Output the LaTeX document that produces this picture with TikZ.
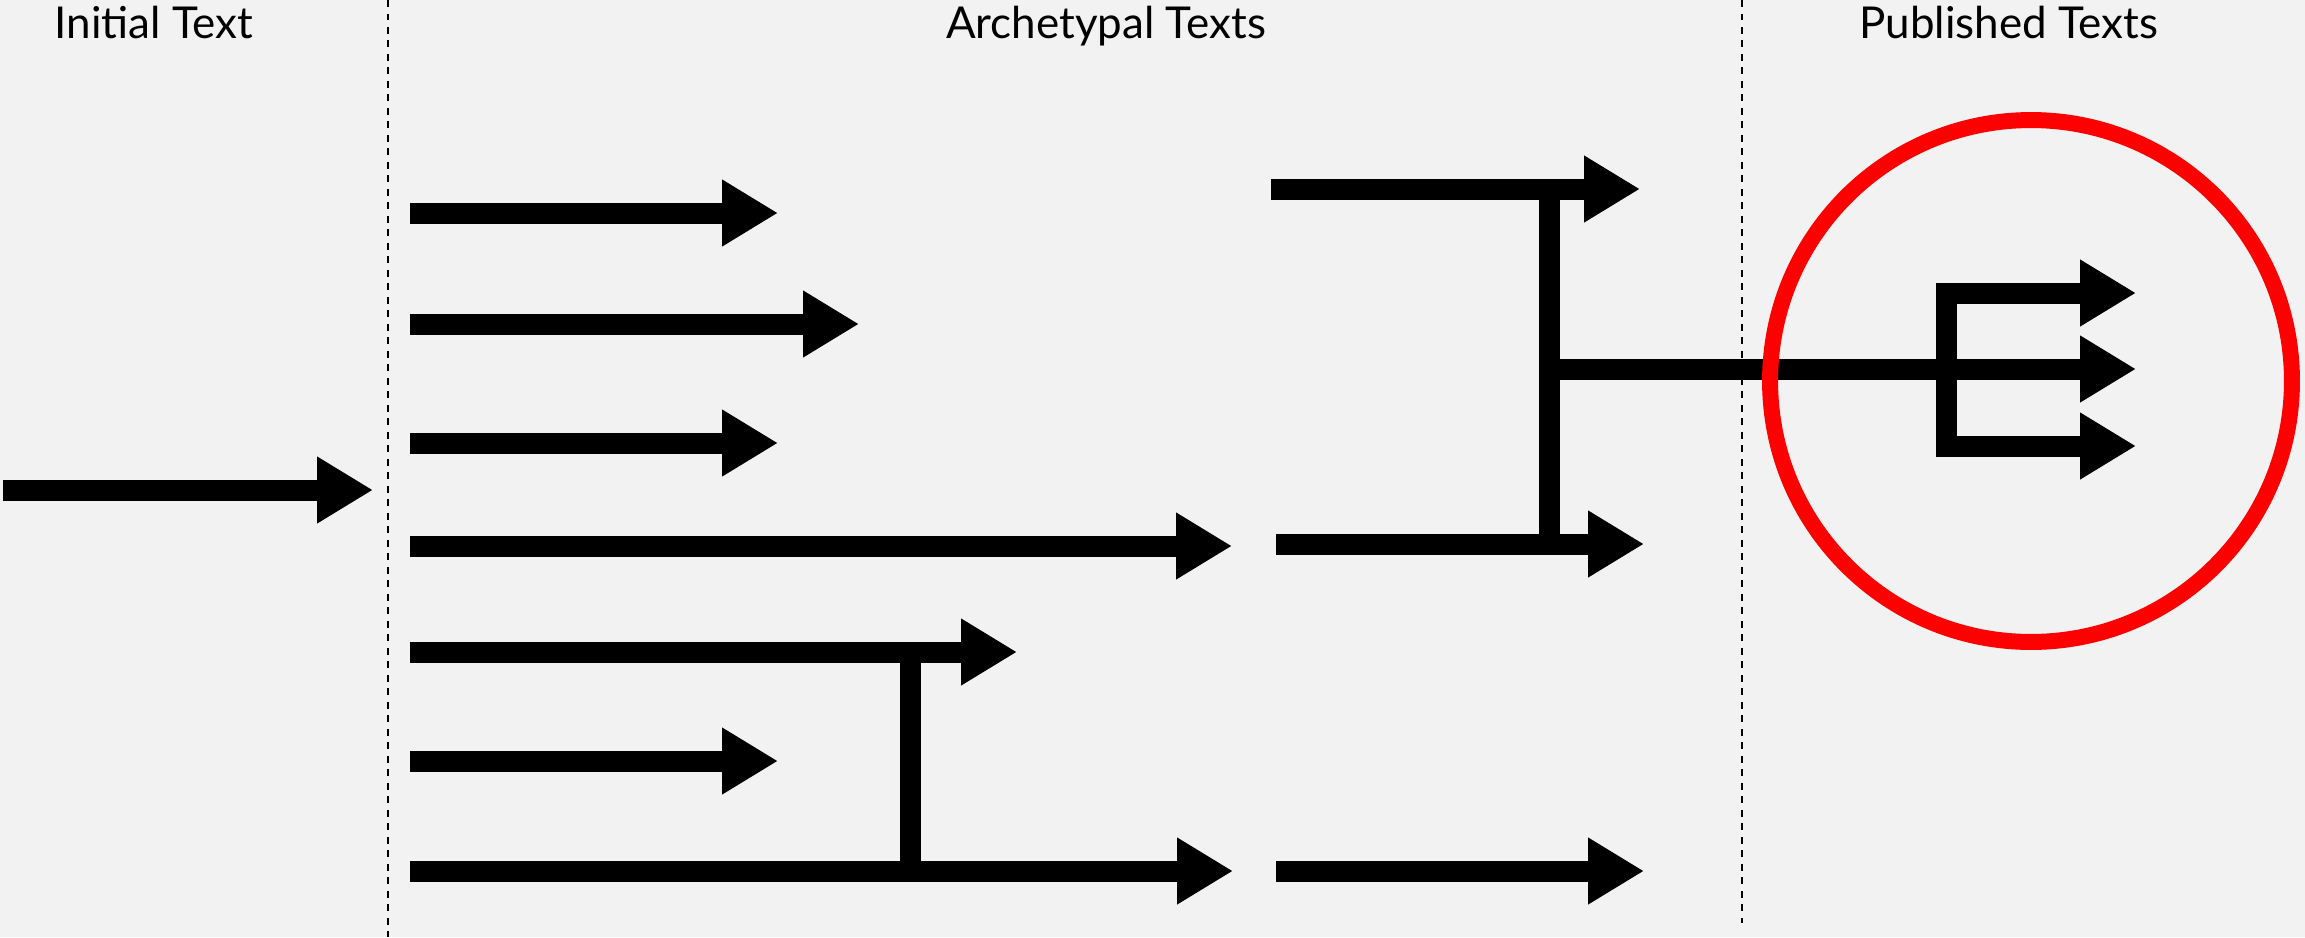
\documentclass[tikz,border=0pt]{standalone}
\usepackage{fontspec}
\setmainfont{Lato}
\usetikzlibrary{arrows.meta}
\definecolor{paper}{HTML}{F2F2F2}
\definecolor{ringred}{HTML}{FF0000}
\tikzset{
  bar/.style={line width=0.42cm, draw=black},
  flow/.style={bar, -{Triangle[length=1.12cm, width=1.26cm]}},
  twoflow/.style={bar, {Triangle[length=1.12cm, width=1.26cm]}-{Triangle[length=1.12cm, width=1.26cm]}},
  divider/.style={line width=0.04cm, dash pattern=on 0.14cm off 0.13cm},
  heading/.style={anchor=base, font=\fontsize{25}{30}\selectfont},
}

\begin{document}
\begin{tikzpicture}[x=0.02cm, y=-0.02cm]
	%%%%% START %%%%%
	\fill[paper] (0, 0) rectangle (2305, 937);
	\useasboundingbox (0, 0) rectangle (2305, 937);

	\draw[divider] (388, 0) -- (388, 937);
	\draw[divider] (1742, 0) -- (1742, 923);

	\node[heading] (initial) at (154, 38) {Initial Text};
	\node[heading] (archetypal) at (1106, 38) {Archetypal Texts};
	\node[heading] (published) at (2009, 38) {Published Texts};

	% initial text
	\draw[flow] (3, 490) -- (373, 490);

	% archetypes
	\draw[flow] (410, 213) -- (778, 213);
	\draw[flow] (410, 324) -- (859, 324);
	\draw[flow] (410, 443) -- (778, 443);
	\draw[flow] (410, 546) -- (1232, 546);
	\draw[flow] (410, 652) -- (1017, 652);
	\draw[flow] (410, 761) -- (778, 761);
	\draw[flow] (410, 871) -- (1233, 871);
	\coordinate (lowsplit) at (910, 652);
	\coordinate (lowjoin) at (910, 871);
	\draw[bar] (lowsplit) -- (lowjoin);

	\draw[flow] (1271, 189) -- (1640, 189);
	\draw[flow] (1276, 544) -- (1644, 544);
	\draw[flow] (1276, 871) -- (1644, 871);
	\coordinate (highsplit) at (1549.5, 189);
	\coordinate (highjoin) at (1549.5, 544);
	\coordinate (stem) at (1549.5, 369);
	\draw[bar] (highsplit) -- (highjoin);

	% published texts
	\draw[flow] (stem) -- (2136, 369);
	\draw[twoflow] (2136, 446) -- (1946.5, 446) -- (1946.5, 293) -- (2136, 293);

	\draw[ringred, line width=0.32cm] (2031, 381) circle [radius=5.22cm];
	%%%%% END %%%%%
\end{tikzpicture}
\end{document}
